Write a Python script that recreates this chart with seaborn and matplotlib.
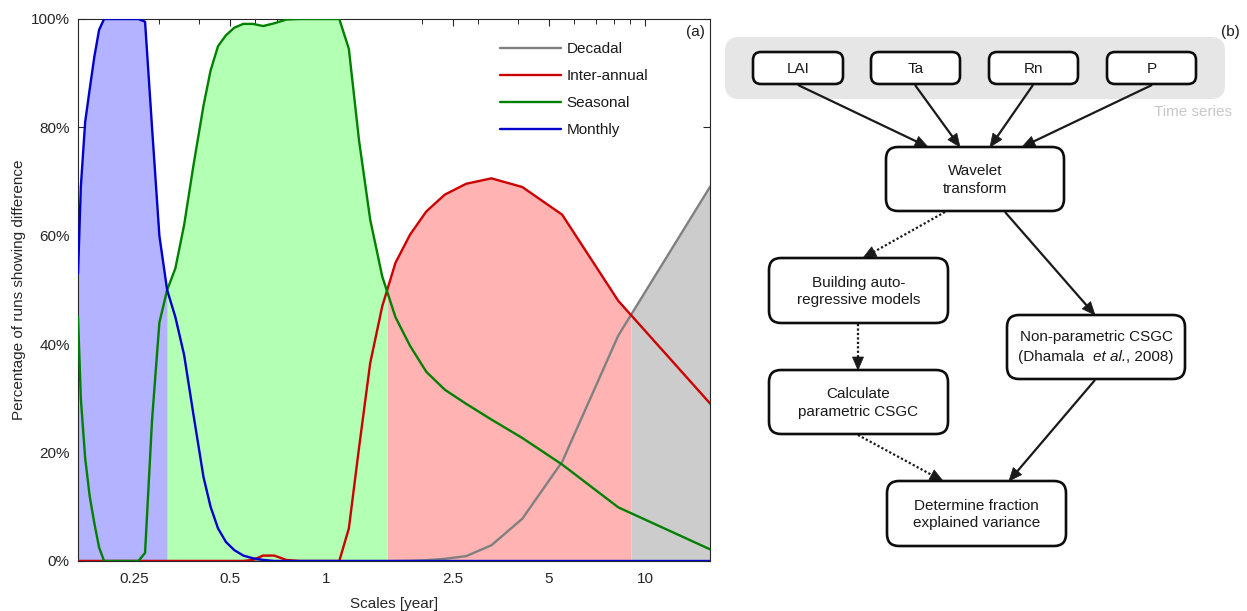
import numpy as np
import pandas as pd
import matplotlib
matplotlib.use("Agg")
import matplotlib.pyplot as plt
import seaborn as sns
from matplotlib.patches import FancyBboxPatch, Polygon
from matplotlib.lines import Line2D
from matplotlib.offsetbox import TextArea, HPacker, AnnotationBbox
from matplotlib.ticker import FixedLocator, FixedFormatter, LogLocator, NullFormatter, FuncFormatter

# ---------------- data (panel a) ----------------
scales = [0.1667, 0.1701, 0.1755, 0.1813, 0.1875, 0.1941, 0.2012, 0.2089, 0.2171, 0.2260,
          0.2357, 0.2463, 0.2578, 0.2705, 0.2845, 0.3000, 0.3173, 0.3367, 0.3587, 0.3837,
          0.4125, 0.4342, 0.4583, 0.4853, 0.5156, 0.5500, 0.5893, 0.6346, 0.6875, 0.7500,
          0.8250, 0.9167, 0.9706, 1.0313, 1.1000, 1.1786, 1.2692, 1.3750, 1.5000, 1.6500,
          1.8333, 2.0625, 2.3571, 2.7500, 3.3000, 4.1250, 5.5000, 8.2500, 16.500]

monthly = [53, 69, 81, 87, 93, 98, 100, 100, 100, 100,
           100, 100, 100, 99.5, 80, 60, 50, 45, 38, 27,
           15.5, 10, 6, 3.5, 2, 1, 0.5, 0.2, 0, 0,
           0, 0, 0, 0, 0, 0, 0, 0, 0, 0,
           0, 0, 0, 0, 0, 0, 0, 0, 0]

seasonal = [45, 30, 19, 12, 7, 2.5, 0, 0, 0, 0,
            0, 0, 0, 1.5, 26, 44, 50, 54, 62, 73,
            84, 90.5, 95, 97, 98.4, 99.1, 99.1, 98.7, 99.2, 99.9,
            100, 100, 100, 100, 100, 94.5, 77.5, 63, 52.5, 45,
            39.7, 34.9, 31.6, 29, 26.1, 22.7, 17.8, 9.9, 1.8]

inter_annual = [0, 0, 0, 0, 0, 0, 0, 0, 0, 0,
                0, 0, 0, 0, 0, 0, 0, 0, 0, 0,
                0, 0, 0, 0, 0, 0, 0.2, 1.0, 1.0, 0.2,
                0, 0, 0, 0, 0, 6, 21, 36.5, 47, 55,
                60.2, 64.5, 67.6, 69.6, 70.6, 69, 63.9, 48, 28.2]

decadal = [0, 0, 0, 0, 0, 0, 0, 0, 0, 0,
           0, 0, 0, 0, 0, 0, 0, 0, 0, 0,
           0, 0, 0, 0, 0, 0, 0, 0, 0, 0,
           0, 0, 0, 0, 0, 0, 0, 0, 0, 0,
           0.05, 0.15, 0.4, 0.9, 2.9, 7.8, 18.3, 41.6, 70.3]

names = ["Decadal", "Inter-annual", "Seasonal", "Monthly"]
xtick_vals = [0.25, 0.5, 1, 2.5, 5, 10]
xtick_labels = ["0.25", "0.5", "1", "2.5", "5", "10"]
ytick_vals = [0, 20, 40, 60, 80, 100]

# ---------------- style ----------------
sns.set_theme(style="ticks")
plt.rcParams['font.family'] = ['Liberation Sans', 'DejaVu Sans']

line_colors = ["#808080", "#cc0000", "#008000", "#0000cc"]
fill_colors = ["#cccccc", "#ffb3b3", "#b3ffb3", "#b3b3ff"]
dark = "#262626"
txt = "#1a1a1a"

W, H = 1247, 611
fig = plt.figure(figsize=(W / 100, H / 100), dpi=100)
ax = fig.add_axes([78 / W, 1 - 561 / H, 632 / W, 542 / H])
ax.set_xscale('log')

series = [decadal, inter_annual, seasonal, monthly]

# shaded envelope coloured by the dominant series
lx = np.log10(scales)
dense = np.linspace(lx.min(), lx.max(), 5000)
Y = np.vstack([np.interp(dense, lx, s) for s in series])
env = Y.max(axis=0)
dom = Y.argmax(axis=0)
xd = 10 ** dense
for i in range(4):
    ax.fill_between(xd, 0, env, where=(dom == i), color=fill_colors[i], lw=0, zorder=1)

df = pd.DataFrame({
    "scale": np.tile(scales, 4),
    "value": np.concatenate([np.asarray(s, float) for s in series]),
    "series": np.repeat(names, len(scales)),
})
sns.lineplot(data=df, x="scale", y="value", hue="series", hue_order=names,
             palette=dict(zip(names, line_colors)), estimator=None,
             linewidth=1.7, legend=False, ax=ax, zorder=3)

ax.set_xlim(1 / 6, 16)
ax.set_ylim(0, 100)
ax.xaxis.set_major_locator(FixedLocator(xtick_vals))
ax.xaxis.set_major_formatter(FixedFormatter(xtick_labels))
ax.xaxis.set_minor_locator(LogLocator(base=10, subs=np.arange(2, 10)))
ax.xaxis.set_minor_formatter(NullFormatter())
ax.yaxis.set_major_locator(FixedLocator(ytick_vals))
ax.yaxis.set_major_formatter(FuncFormatter(lambda v, _: f"{v:.0f}%"))
ax.tick_params(which='both', direction='in', top=True, right=True,
               colors=dark, labelsize=11)
ax.tick_params(which='major', length=5, width=0.8)
ax.tick_params(axis='x', which='major', pad=8)
ax.tick_params(axis='y', which='major', pad=6)
ax.tick_params(which='minor', length=3.5, width=0.7)
for sp in ax.spines.values():
    sp.set_color(dark)
    sp.set_linewidth(0.8)
ax.set_xlabel("Scales [year]", fontsize=11, color=dark, labelpad=8)
ax.set_ylabel("Percentage of runs showing difference", fontsize=11, color=dark, labelpad=3)

handles = [Line2D([], [], color=c, lw=1.7) for c in line_colors]
leg = ax.legend(handles, names, loc='upper left',
                bbox_to_anchor=((500 - 78) / 632, (561 - 42) / 542),
                frameon=False, borderpad=0, borderaxespad=0, handlelength=4.0,
                handletextpad=0.35, labelspacing=0.85, fontsize=11)
for t in leg.get_texts():
    t.set_color(txt)

ax.text((705 - 78) / 632, (561 - 32) / 542, "(a)", transform=ax.transAxes,
        ha='right', va='center', fontsize=11, color=txt)

# ---------------- panel b: flowchart ----------------
ax2 = fig.add_axes([720 / W, 0, (W - 720) / W, 1])
ax2.set_xlim(720, W)
ax2.set_ylim(H, 0)
ax2.axis('off')


def rbox(x0, y0, x1, y1, r, fc, ec, lw, z):
    p = FancyBboxPatch((x0 + r, y0 + r), (x1 - x0) - 2 * r, (y1 - y0) - 2 * r,
                       boxstyle=f"round,pad={r},rounding_size={r}",
                       fc=fc, ec=ec, lw=lw, zorder=z)
    ax2.add_patch(p)


def arrow(x0, y0, x1, y1, dotted=False):
    d = np.array([x1 - x0, y1 - y0], float)
    u = d / np.hypot(*d)
    n = np.array([-u[1], u[0]])
    hl, hw = 13, 5.5
    tip = np.array([x1, y1], float)
    base = tip - u * hl
    ax2.plot([x0, base[0] + u[0] * 2], [y0, base[1] + u[1] * 2], color='k', lw=1.6,
             ls=(0, (1, 1)) if dotted else '-', solid_capstyle='butt', zorder=2)
    ax2.add_patch(Polygon([tip, base + n * hw, base - n * hw], closed=True,
                          fc='k', ec='k', lw=0.5, zorder=2))


# background group
rbox(725, 37, 1225, 99, 14, "#e6e6e6", "none", 0, 0)
ax2.text(1232, 112, "Time series", ha='right', va='center', fontsize=11, color="#c8c8c8")
ax2.text(1240, 32, "(b)", ha='right', va='center', fontsize=11, color=txt)

boxes = [
    (753, 52, 843, 84, 8, "LAI"),
    (871, 52, 960, 84, 8, "Ta"),
    (989, 52, 1078, 84, 8, "Rn"),
    (1107, 52, 1196, 84, 8, "P"),
    (886, 147, 1064, 211, 12, "Wavelet\ntransform"),
    (769, 258, 948, 323, 12, "Building auto-\nregressive models"),
    (1007, 315, 1185, 379, 12, None),
    (769, 370, 948, 434, 12, "Calculate\nparametric CSGC"),
    (887, 481, 1066, 546, 12, "Determine fraction\nexplained variance"),
]
for x0, y0, x1, y1, r, label in boxes:
    rbox(x0, y0, x1, y1, r, "white", "#0d0d0d", 1.9, 3)
    if label is not None:
        ax2.text((x0 + x1) / 2, (y0 + y1) / 2 + 1, label, ha='center', va='center',
                 fontsize=11, color=txt, linespacing=1.35, zorder=4)

# Non-parametric box text: two lines, "et al." in italics
ax2.text(1096, 337, "Non-parametric CSGC", ha='center', va='center',
         fontsize=11, color=txt, zorder=4)
parts = [TextArea("(Dhamala  ", textprops=dict(fontsize=11, color=txt)),
         TextArea("et al.", textprops=dict(fontsize=11, color=txt, fontstyle='italic')),
         TextArea(", 2008)", textprops=dict(fontsize=11, color=txt))]
pack = HPacker(children=parts, sep=0, pad=0, align='baseline')
ab = AnnotationBbox(pack, (1096, 357), xycoords='data', frameon=False,
                    box_alignment=(0.5, 0.5), pad=0, zorder=4)
ax2.add_artist(ab)

arrow(798, 85, 928, 147)
arrow(915, 85, 960, 147)
arrow(1033, 85, 990, 147)
arrow(1152, 85, 1022, 147)
arrow(945, 212, 863, 258, dotted=True)
arrow(1005, 212, 1095, 315)
arrow(858, 324, 858, 370, dotted=True)
arrow(858, 435, 943, 481, dotted=True)
arrow(1095, 380, 1009, 481)

fig.savefig("out.png", dpi=100)
